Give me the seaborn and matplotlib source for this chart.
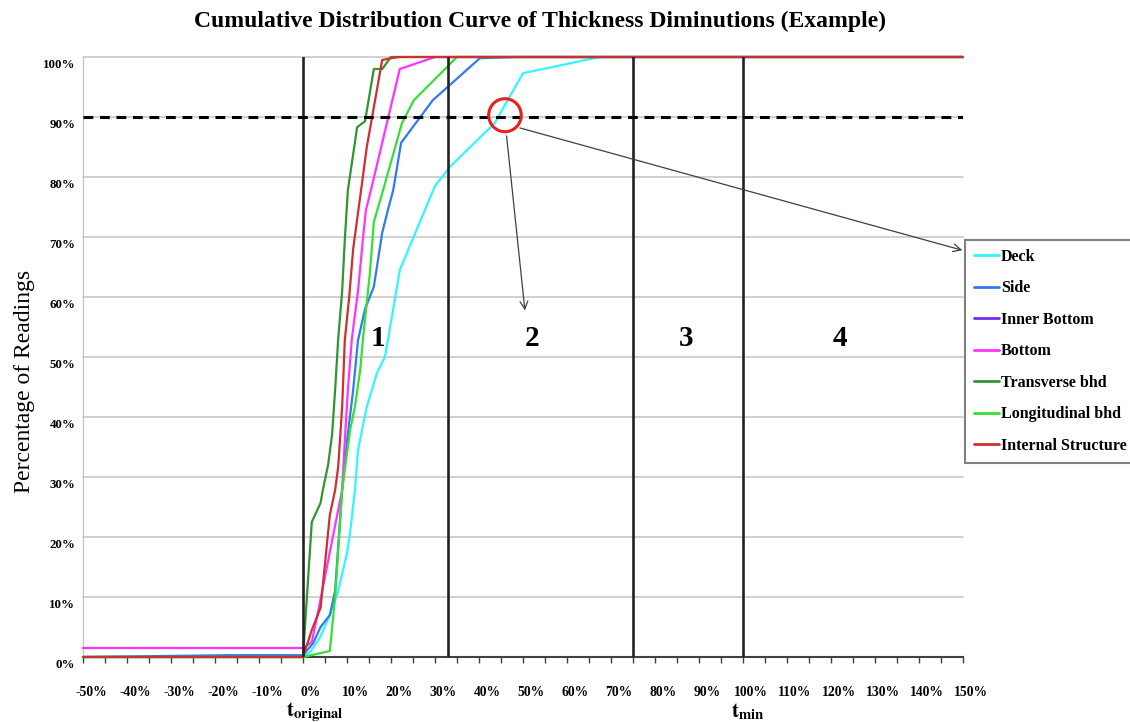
import pandas as pd
import matplotlib.pyplot as plt
import matplotlib.transforms as mtransforms
from matplotlib.lines import Line2D
from matplotlib.patches import Ellipse
import seaborn as sns

# Cumulative curves (x = % diminution, y = % of readings)
deck_x = [-50, 0, 1.6, 3.9, 6.1, 8, 10, 10.7, 11.8, 12.5, 14.5, 16.8, 18.6, 19.3, 22, 30, 33.4, 43.6, 50, 67.5, 150]
deck_y = [0, 0, 0.8, 3.3, 7, 11, 17.3, 20.7, 27.8, 34.5, 41.7, 47.3, 50, 52.8, 64.5, 78.5, 81.7, 89, 97.3, 100, 100]

side_x = [-50, -17, 0, 2.3, 4, 6.1, 7.3, 8.9, 10, 11.4, 12.5, 14.1, 16.1, 18, 19.3, 20.5, 22.3, 29.5, 40.2, 48.6, 150]
side_y = [0, 0.3, 0.3, 2.3, 5, 7, 11, 28, 36, 44.5, 52.8, 58, 61.7, 70.7, 74.5, 77.8, 85.7, 92.8, 99.8, 100, 100]

inner_bottom_x = []
inner_bottom_y = []

bottom_x = [-50, 0, 2, 3.2, 5.7, 8, 8.9, 9.5, 10.2, 11.1, 12.5, 13.6, 14.3, 15.5, 22, 30, 150]
bottom_y = [1.5, 1.5, 2.5, 6.7, 16, 24.5, 27.8, 36, 44.5, 53, 61, 69.5, 74.5, 78, 98, 100, 100]

transverse_x = [-50, 0, 2, 4, 4.5, 5.7, 6.6, 7.3, 8, 8.9, 9.5, 10.2, 12.3, 14.1, 16.1, 18, 20, 150]
transverse_y = [0, 0, 22.5, 25.7, 27.8, 32, 37, 44.5, 53, 61, 69.5, 77.8, 88.3, 89.3, 98, 98, 100, 100]

longitudinal_x = [-50, 0, 6.1, 7.3, 8.9, 10.7, 11.8, 13, 13.6, 15.2, 16.1, 18.2, 22.5, 25.2, 35, 150]
longitudinal_y = [0, 0, 1, 10, 27.8, 37.8, 41.7, 47.8, 52.8, 64, 72.5, 77.8, 89, 92.8, 100, 100]

internal_x = [-50, 0, 2, 4, 6.1, 7.3, 8, 8.9, 9.5, 10.5, 11.4, 12.5, 13.2, 14.5, 18, 20, 22, 150]
internal_y = [0, 0, 4.5, 8.2, 23.7, 27.8, 31.7, 41.7, 52.8, 60, 68, 74, 77.8, 85, 99.5, 99.8, 100, 100]

series_names = ["Deck", "Side", "Inner Bottom", "Bottom", "Transverse bhd",
                "Longitudinal bhd", "Internal Structure"]
series_x = [deck_x, side_x, inner_bottom_x, bottom_x, transverse_x, longitudinal_x, internal_x]
series_y = [deck_y, side_y, inner_bottom_y, bottom_y, transverse_y, longitudinal_y, internal_y]
colors = ["#33F5FF", "#2F7BF0", "#7030E8", "#FF33FF", "#2E9632", "#33E033", "#CC3030"]

x_ticks = list(range(-50, 151, 10))
y_ticks = list(range(0, 101, 10))
zone_lines = [0, 33, 75, 100]
zone_labels = ["1", "2", "3", "4"]
zone_label_x = [17, 52, 87, 122]
target_pct = 90

frames = []
for name, xs, ys in zip(series_names, series_x, series_y):
    frames.append(pd.DataFrame({"pct": xs, "cum": ys, "series": name}))
df = pd.concat(frames, ignore_index=True)
palette = dict(zip(series_names, colors))
present = [n for n in series_names if (df["series"] == n).any()]

sns.set_style("white")
plt.rcParams["font.family"] = ["Liberation Serif", "DejaVu Serif"]
plt.rcParams["mathtext.fontset"] = "stix"
plt.rcParams["text.color"] = "black"
plt.rcParams["axes.labelcolor"] = "black"
plt.rcParams["xtick.color"] = "black"
plt.rcParams["ytick.color"] = "black"

fig = plt.figure(figsize=(11.3, 7.22), dpi=100)
ax = fig.add_axes([83 / 1130, 65 / 722, 880 / 1130, 600 / 722])

# horizontal grid
for yv in y_ticks:
    ax.axhline(yv, color="#C8C8C8", linewidth=1.2, zorder=0)

sns.lineplot(data=df, x="pct", y="cum", hue="series", hue_order=present,
             palette=palette, sort=False, estimator=None, linewidth=1.6,
             legend=False, ax=ax, zorder=3)
for ln in ax.lines:
    ln.set_clip_on(False)

for xv in zone_lines:
    ax.axvline(xv, color="#222222", linewidth=1.9, zorder=4)

ax.axhline(target_pct, color="black", linewidth=2.2, dashes=(3.2, 2.2), zorder=5)

for lab, xv in zip(zone_labels, zone_label_x):
    ax.text(xv, 53, lab, fontsize=21, fontweight="bold", ha="center", va="center", zorder=6)

# red circle where the deck curve crosses 90 %
ax.add_patch(Ellipse((45.9, 90.3), 7.4, 5.5, fill=False, edgecolor="#E82020",
                     linewidth=2.2, zorder=7, clip_on=False))

ax.annotate("", xy=(50.5, 57.3), xytext=(46.2, 87.3),
            arrowprops=dict(arrowstyle="->", color="#404040", lw=0.9,
                            mutation_scale=14), zorder=6)
ax.annotate("", xy=(965 / 1130, 1 - 251 / 722), xycoords="figure fraction",
            xytext=(48.7, 88.3), textcoords="data", annotation_clip=False,
            arrowprops=dict(arrowstyle="->", color="#404040", lw=0.9,
                            mutation_scale=14), zorder=6)

ax.set_xlim(-50, 150)
ax.set_ylim(0, 100)
ax.set_xticks(x_ticks)
ax.set_xticks(list(range(-45, 151, 10)), minor=True)
ax.set_xticklabels([f"{v}%" for v in x_ticks], fontsize=9.8, fontweight="bold")
ax.set_yticks(y_ticks)
ax.set_yticklabels([f"{v}%" for v in y_ticks], fontsize=9.3, fontweight="bold")
ax.tick_params(axis="x", which="both", bottom=True, length=4, width=1,
               color="#404040", direction="out", pad=17)
ax.tick_params(axis="y", left=False, pad=2)

dx = mtransforms.ScaledTranslation(0.08, 0, fig.dpi_scale_trans)
for lab in ax.get_xticklabels():
    lab.set_transform(lab.get_transform() + dx)
dy = mtransforms.ScaledTranslation(0, -0.07, fig.dpi_scale_trans)
for lab in ax.get_yticklabels():
    lab.set_transform(lab.get_transform() + dy)

ax.set_xlabel("")
ax.set_ylabel("Percentage of Readings", fontsize=17, labelpad=6)
ax.yaxis.set_label_coords(-0.055, 0.46)
for side in ["top", "right"]:
    ax.spines[side].set_visible(False)
ax.spines["left"].set_color("#BFBFBF")
ax.spines["bottom"].set_color("#404040")
ax.spines["bottom"].set_linewidth(1.5)

fig.text(540 / 1130, 1 - 21 / 722,
         "Cumulative Distribution Curve of Thickness Diminutions (Example)",
         fontsize=17, fontweight="bold", ha="center", va="center")
fig.text(315 / 1130, 1 - 712 / 722, r"$\mathbf{t}_{\mathbf{original}}$",
         fontsize=15, ha="center", va="center")
fig.text(748 / 1130, 1 - 712 / 722, r"$\mathbf{t}_{\mathbf{min}}$",
         fontsize=15, ha="center", va="center")

handles = [Line2D([0], [0], color=c, linewidth=2) for c in colors]
leg = fig.legend(handles, series_names, loc="upper left",
                 bbox_to_anchor=(965 / 1130, 1 - 240 / 722), frameon=True,
                 fancybox=False, framealpha=1, edgecolor="#808080",
                 prop={"size": 11.5, "weight": "bold"}, labelspacing=0.97,
                 handlelength=1.6, handletextpad=0.1, borderpad=0.55,
                 borderaxespad=0)
leg.get_frame().set_linewidth(1.5)

fig.savefig("out.png", dpi=100)
